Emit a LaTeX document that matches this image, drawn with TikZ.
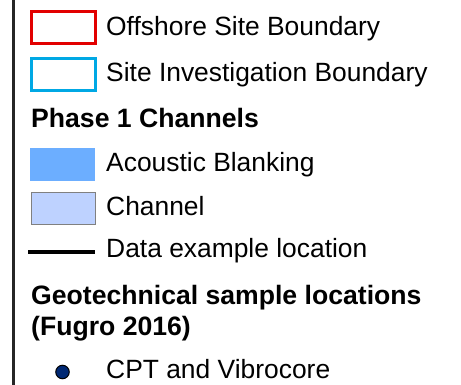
\documentclass[tikz,border=0pt]{standalone}
\usepackage{fontspec}
\setmainfont{Liberation Sans}
\definecolor{offred}{RGB}{226,0,0}
\definecolor{sicyan}{RGB}{0,168,228}
\definecolor{acblue}{RGB}{108,174,255}
\definecolor{chblue}{RGB}{190,210,255}
\definecolor{chedge}{RGB}{128,128,128}
\definecolor{dotnavy}{RGB}{0,40,115}
\begin{document}
\begin{tikzpicture}[x=1pt,y=1pt,
  lbl/.style={anchor=base west,inner sep=0pt,font=\fontsize{26.4}{30}\selectfont},
  hdr/.style={anchor=base west,inner sep=0pt,align=left,font=\fontsize{26.6}{30.5}\selectfont\bfseries},
  swatch/.style={minimum width=64pt,minimum height=32pt,inner sep=0pt,anchor=north west}]
\useasboundingbox (0,0) rectangle (461,-385);
\fill[white] (0,0) rectangle (461,-385);
\draw[line width=2.6pt,black!85] (13.6,0) -- (13.6,-385);
% swatches
\node[swatch,draw=offred,line width=2.8pt] (red) at (30,-10) {};
\node[lbl] (redt) at (106,-36) {Offshore Site Boundary};
\node[swatch,draw=sicyan,line width=2.8pt] (cyan) at (30,-57) {};
\node[lbl] (cyant) at (106,-82) {Site Investigation Boundary};
\node[hdr] (ph) at (31,-128) {Phase 1 Channels};
\node[swatch,fill=acblue,minimum width=65pt,minimum height=33pt] (ac) at (30,-148) {};
\node[lbl] (act) at (106,-172) {Acoustic Blanking};
\node[swatch,fill=chblue,draw=chedge,line width=1.2pt] (ch) at (30.5,-192) {};
\node[lbl] (cht) at (106,-215.5) {Channel};
\coordinate (l1) at (28,-252);
\coordinate (l2) at (95,-252);
\draw[line width=3.6pt] (l1) -- (l2);
\node[lbl] (lt) at (106,-258) {Data example location};
\node[hdr] (geo) at (31,-335) {Geotechnical sample locations\\(Fugro 2016)};
\node[circle,fill=dotnavy,draw=black,line width=1pt,minimum size=13.5pt,inner sep=0pt] (dot) at (62.5,-372) {};
\node[lbl] (dott) at (106,-378) {CPT and Vibrocore};
\end{tikzpicture}
\end{document}
